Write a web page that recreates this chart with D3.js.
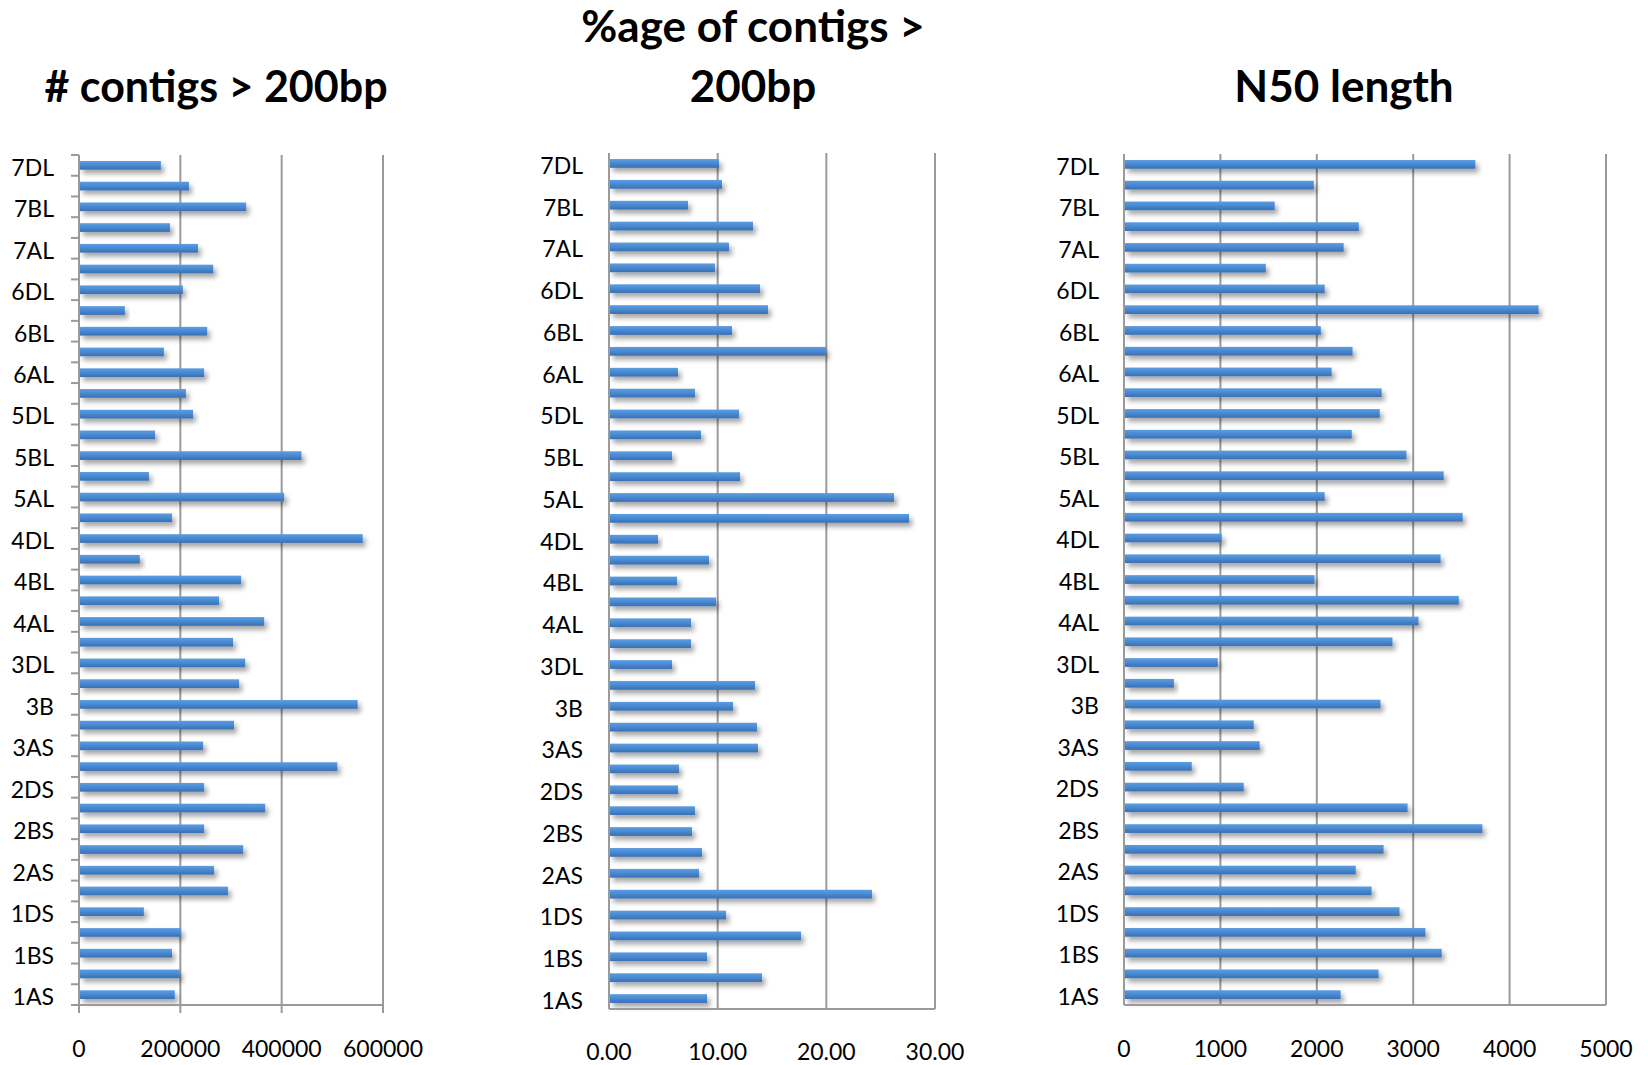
<!DOCTYPE html>
<html lang="en">
<meta charset="utf-8">
<head>
    <script src="https://d3js.org/d3.v7.min.js"></script>
</head>
<body style="margin:0; background:#fff;">
<style>
    .cat { font-family: Lato, "Open Sans", sans-serif; font-size: 23px; fill: #000; }
    .tick-label { font-family: Lato, "Open Sans", sans-serif; font-size: 23px; fill: #000; }
    .title { font-family: Lato, sans-serif; font-weight: 700; font-size: 44px; fill: #000; }
</style>

<svg width="1648" height="1065"></svg>
</body>

<script>
// chromosome arms, bottom to top
var categories = ["1AS","1AL","1BS","1BL","1DS","1DL",
    "2AS","2AL","2BS","2BL","2DS","2DL",
    "3AS","3AL","3B","3DS","3DL",
    "4AS","4AL","4BS","4BL","4DS","4DL",
    "5AS","5AL","5BS","5BL","5DS","5DL",
    "6AS","6AL","6BS","6BL","6DS","6DL",
    "7AS","7AL","7BS","7BL","7DS","7DL"];

// # contigs > 200bp
var contigs = [189000, 199000, 183500, 201000, 128000, 294000,
    266500, 324000, 247000, 367500, 247000, 510000,
    245000, 306000, 550000, 316000, 328000,
    304000, 365500, 276500, 320000, 120000, 560000,
    183500, 405000, 138000, 439000, 150000, 225000,
    211000, 247000, 167500, 253000, 90500, 205000,
    265000, 235000, 179500, 330000, 217000, 161500];

// %age of contigs > 200bp
var pctContigs = [9.02, 14.08, 9.02, 17.67, 10.77, 24.20,
    8.28, 8.56, 7.64, 7.91, 6.35, 6.44,
    13.71, 13.62, 11.41, 13.44, 5.80,
    7.55, 7.55, 9.85, 6.26, 9.20, 4.51,
    27.61, 26.23, 12.06, 5.80, 8.47, 11.96,
    7.91, 6.35, 19.97, 11.32, 14.63, 13.90,
    9.75, 11.04, 13.25, 7.27, 10.40, 10.12];

// N50 length
var n50 = [2247, 2641, 3296, 3127, 2858, 2568,
    2404, 2693, 3718, 2942, 1242, 703,
    1407, 1346, 2661, 518, 973,
    2785, 3055, 3473, 1977, 3284, 1013,
    3513, 2082, 3316, 2930, 2363, 2653,
    2673, 2154, 2371, 2042, 4301, 2082,
    1471, 2279, 2436, 1563, 1969, 3645];

var ticks1 = [0, 200000, 400000, 600000];
var ticks2 = [0, 10, 20, 30];
var ticks3 = [0, 1000, 2000, 3000, 4000, 5000];

var svg = d3.select("svg");
var defs = svg.append("defs");

// bar gradient (excel 2007 style)
var grad = defs.append("linearGradient")
    .attr("id", "barGrad")
    .attr("x1", 0).attr("y1", 0).attr("x2", 0).attr("y2", 1);
grad.append("stop").attr("offset", "0%").attr("stop-color", "#5b9de2");
grad.append("stop").attr("offset", "45%").attr("stop-color", "#4a8bd3");
grad.append("stop").attr("offset", "100%").attr("stop-color", "#3a6fb3");

// soft drop shadow
var filter = defs.append("filter")
    .attr("id", "shadow")
    .attr("x", "-5%").attr("y", "-50%")
    .attr("width", "115%").attr("height", "250%");
filter.append("feDropShadow")
    .attr("dx", 3).attr("dy", 4)
    .attr("stdDeviation", 2.5)
    .attr("flood-color", "#000")
    .attr("flood-opacity", 0.35);

var gridColor = "#9a9a9a";

function drawPanel(opts) {
    var x = d3.scaleLinear().domain(opts.domain).range([opts.left, opts.right]);
    var y = d3.scaleBand()
        .domain(categories)
        .range([opts.bottom, opts.top])
        .paddingInner(0.58)
        .paddingOuter(0.29);
    var band = d3.scaleBand().domain(categories).range([opts.bottom, opts.top]);

    var g = svg.append("g");

    // vertical gridlines
    g.selectAll(".grid")
        .data(opts.ticks.slice(1))
        .enter().append("line")
        .attr("x1", function(d) { return x(d); })
        .attr("x2", function(d) { return x(d); })
        .attr("y1", opts.top)
        .attr("y2", opts.bottom + (opts.outerTicks ? 8 : 0))
        .attr("stroke", gridColor)
        .attr("stroke-width", 2);

    // bars
    g.selectAll(".bar")
        .data(opts.values)
        .enter().append("rect")
        .attr("x", x(0) + 1)
        .attr("y", function(d, i) { return y(categories[i]); })
        .attr("width", function(d) { return x(d) - x(0) - 1; })
        .attr("height", y.bandwidth())
        .attr("fill", "url(#barGrad)")
        .attr("filter", "url(#shadow)");

    // axis lines
    g.append("line")
        .attr("x1", x(0)).attr("x2", x(0))
        .attr("y1", opts.top).attr("y2", opts.bottom + (opts.outerTicks ? 8 : 0))
        .attr("stroke", gridColor).attr("stroke-width", 2);
    g.append("line")
        .attr("x1", x(0) - (opts.outerTicks ? 8 : 0)).attr("x2", opts.right)
        .attr("y1", opts.bottom).attr("y2", opts.bottom)
        .attr("stroke", gridColor).attr("stroke-width", 2);

    // category ticks on the left (first panel only)
    if (opts.outerTicks) {
        var bounds = categories.map(function(c) { return band(c); });
        g.selectAll(".ctick")
            .data(bounds)
            .enter().append("line")
            .attr("x1", x(0) - 8).attr("x2", x(0))
            .attr("y1", function(d) { return d; })
            .attr("y2", function(d) { return d; })
            .attr("stroke", gridColor).attr("stroke-width", 2);
    }

    // category labels, every other one
    g.selectAll(".cat")
        .data(categories.filter(function(c, i) { return i % 2 === 0; }))
        .enter().append("text")
        .attr("class", "cat")
        .attr("x", x(0) - opts.labelGap)
        .attr("y", function(d) { return band(d) + band.bandwidth() / 2; })
        .attr("dy", "0.45em")
        .attr("text-anchor", "end")
        .text(function(d) { return d; });

    // value axis labels
    g.selectAll(".tick-label")
        .data(opts.ticks)
        .enter().append("text")
        .attr("class", "tick-label")
        .attr("x", function(d) { return x(d); })
        .attr("y", opts.labelY)
        .attr("dy", "0.36em")
        .attr("text-anchor", "middle")
        .text(opts.format);
}

drawPanel({
    values: contigs, domain: [0, 600000], ticks: ticks1,
    left: 79, right: 383, top: 155, bottom: 1005,
    outerTicks: true, labelGap: 25, labelY: 1049,
    format: function(d) { return String(d); }
});

drawPanel({
    values: pctContigs, domain: [0, 30], ticks: ticks2,
    left: 609, right: 935, top: 153, bottom: 1009,
    outerTicks: false, labelGap: 26, labelY: 1052,
    format: d3.format(".2f")
});

drawPanel({
    values: n50, domain: [0, 5000], ticks: ticks3,
    left: 1124, right: 1606, top: 154, bottom: 1005,
    outerTicks: false, labelGap: 25, labelY: 1049,
    format: function(d) { return String(d); }
});

// titles
svg.append("text").attr("class", "title")
    .attr("x", 216).attr("y", 102).attr("text-anchor", "middle")
    .style("font-size", "43px")
    .text("# contigs > 200bp");
svg.append("text").attr("class", "title")
    .attr("x", 753).attr("y", 42).attr("text-anchor", "middle")
    .text("%age of contigs >");
svg.append("text").attr("class", "title")
    .attr("x", 753).attr("y", 102).attr("text-anchor", "middle")
    .text("200bp");
svg.append("text").attr("class", "title")
    .attr("x", 1344).attr("y", 102).attr("text-anchor", "middle")
    .text("N50 length");
</script>
